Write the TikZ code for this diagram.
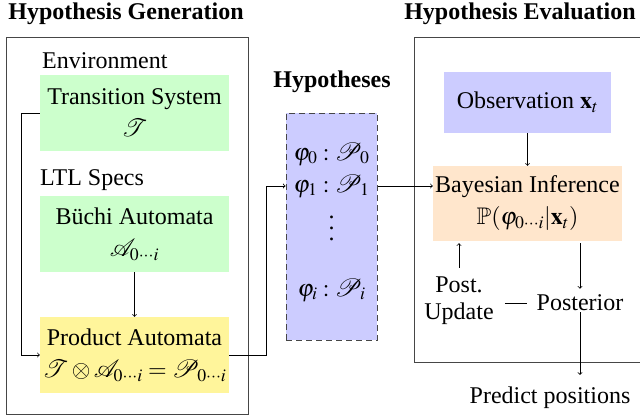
\documentclass[tikz,border=0pt]{standalone}
\usepackage{mathptmx}
\usepackage{amssymb}
\usepackage{mathrsfs}
\usepackage{fontspec}
\setmainfont{Liberation Serif}
\usetikzlibrary{calc}
\definecolor{gbox}{RGB}{204,255,204}
\definecolor{ybox}{RGB}{255,245,155}
\definecolor{bbox}{RGB}{204,204,255}
\definecolor{obox}{RGB}{255,230,204}
\definecolor{frame}{RGB}{70,70,70}
\newcommand{\myvdots}{\vbox{\baselineskip=11pt\lineskiplimit=0pt\hbox{.}\hbox{.}\hbox{.}}}
\tikzset{
  every node/.style={font=\fontsize{24}{32}\selectfont\rmfamily},
  titlelbl/.style={font=\fontsize{24}{32}\selectfont\rmfamily\bfseries},
  cbox/.style={align=center, inner sep=0pt, minimum width=189pt, minimum height=76pt},
  arr/.style={->, line width=0.8pt},
  ln/.style={line width=0.8pt},
  grp/.style={draw=frame, line width=1pt},
}
\begin{document}
\begin{tikzpicture}[x=1pt,y=-1pt]
\useasboundingbox (0,0) rectangle (640,420);
% groups
\draw[grp] (6,38) rectangle (248,414);
\draw[grp] (660,38) -- (414,38) -- (414,362) -- (660,362);
% titles
\node[titlelbl] (tgen) at (126,14) {Hypothesis Generation};
\node[titlelbl] (thyp) at (332,82) {Hypotheses};
\node[titlelbl] (teva) at (520,14) {Hypothesis Evaluation};
% left side
\node[anchor=west, inner sep=2pt] (env) at (40,61) {Environment};
\node[cbox, fill=gbox] (ts) at (134.5,113) {Transition System\\$\mathscr{T}$};
\node[anchor=west, inner sep=2pt] (ltl) at (38,180) {LTL Specs};
\node[cbox, fill=gbox] (bu) at (134.5,234) {B\"uchi Automata\\$\mathscr{A}_{0\cdots i}$};
\node[cbox, fill=ybox] (prod) at (134.5,355) {Product Automata\\$\mathscr{T}\otimes\mathscr{A}_{0\cdots i}=\mathscr{P}_{0\cdots i}$};
% hypotheses
\node[draw=frame, dash pattern=on 6pt off 4pt, line width=1pt, fill=bbox, minimum width=91pt, minimum height=227pt, inner sep=0pt] (hyp) at (331.5,226.5) {};
\node (h0) at (331.5,154) {$\varphi_0:\mathscr{P}_0$};
\node (h1) at (331.5,186) {$\varphi_1:\mathscr{P}_1$};
\node[inner sep=0pt] (hd) at (331.5,228) {\myvdots};
\node (hi) at (331.5,290) {$\varphi_i:\mathscr{P}_i$};
% right side
\node[fill=bbox, inner sep=0pt, minimum width=167pt, minimum height=61pt] (obs) at (527.5,102.5) {Observation $\mathbf{x}_t$};
\node[cbox, fill=obox, minimum height=75pt] (bay) at (527.5,203.5) {Bayesian Inference\\$\mathbb{P}(\varphi_{0\cdots i}|\mathbf{x}_t)$};
\node[align=center, inner sep=3pt, font=\fontsize{24}{27}\selectfont\rmfamily] (pu) at (459,301) {Post.\\Update};
\node[inner sep=3pt] (post) at (580,303) {Posterior};
\node[inner sep=3pt] (pred) at (550,398) {Predict positions};
% connectors
\coordinate (tl) at (21,113);
\coordinate (kk) at (266,186);
\draw[ln] (ts.west) -- (tl);
\draw[arr] (tl) |- (prod.west);
\draw[arr] (bu.south) -- (prod.north);
\draw[ln] (prod.east) -| (kk);
\draw[arr] (kk) -- (h1 -| hyp.west);
\draw[arr] (h1 -| hyp.east) -- (h1 -| bay.west);
\draw[arr] (obs.south) -- (bay.north);
\draw[arr] ($(pu.north)+(0,-6)$) -- ($(bay.south -| pu.north)+(0,2)$);
\draw[arr] ($(bay.south -| post.north)+(0,2)$) -- ($(post.north)+(0,-3)$);
\draw[ln] ($(pu.east)+(8,2)$) -- ($(post.west)+(-6,0)$);
\draw[arr] ($(post.south)+(0,-2)$) -- ($(pred.north -| post.south)+(0,-9)$);
\end{tikzpicture}
\end{document}
